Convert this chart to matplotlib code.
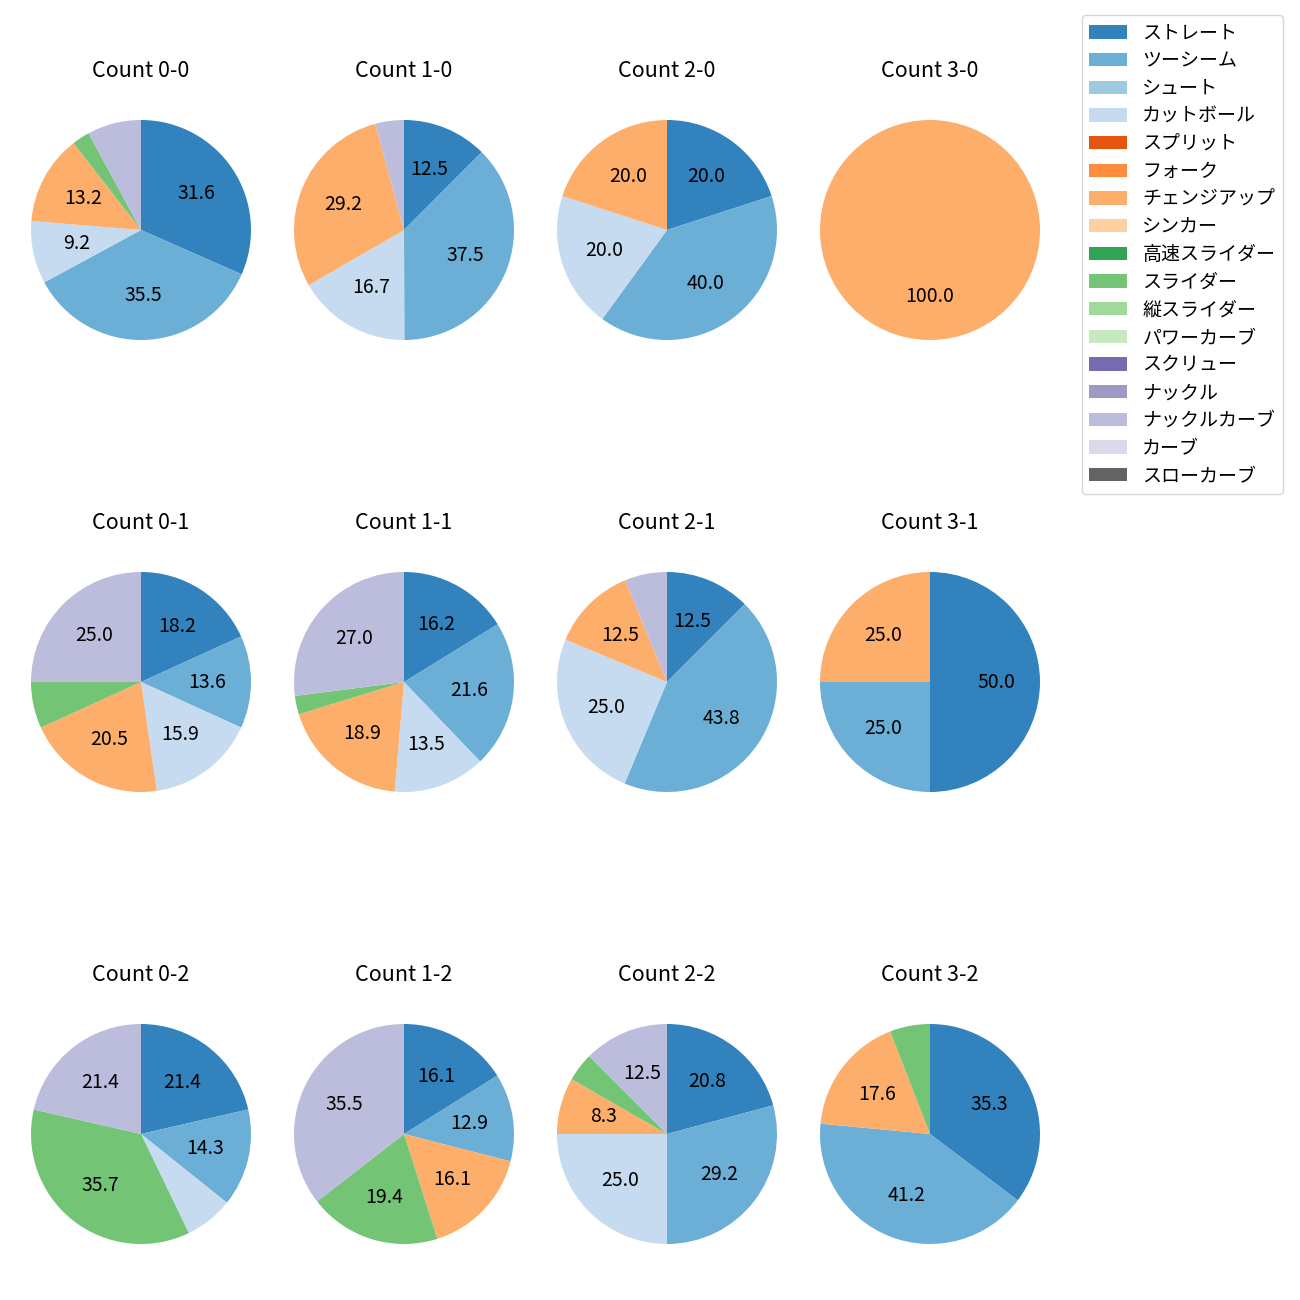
import matplotlib
matplotlib.use("Agg")
import matplotlib.pyplot as plt
from matplotlib.patches import Patch

plt.rcParams['font.family'] = ['Noto Sans CJK JP', 'DejaVu Sans']

pitch_types = ['ストレート', 'ツーシーム', 'シュート', 'カットボール', 'スプリット', 'フォーク',
               'チェンジアップ', 'シンカー', '高速スライダー', 'スライダー', '縦スライダー',
               'パワーカーブ', 'スクリュー', 'ナックル', 'ナックルカーブ', 'カーブ', 'スローカーブ']

count_labels = ['0-0', '1-0', '2-0', '3-0',
                '0-1', '1-1', '2-1', '3-1',
                '0-2', '1-2', '2-2', '3-2']

# percentages per pitch type (same order as pitch_types)
c00 = [31.6, 35.5, 0, 9.2, 0, 0, 13.2, 0, 0, 2.6, 0, 0, 0, 0, 7.9, 0, 0]
c10 = [12.5, 37.5, 0, 16.7, 0, 0, 29.2, 0, 0, 0, 0, 0, 0, 0, 4.2, 0, 0]
c20 = [20.0, 40.0, 0, 20.0, 0, 0, 20.0, 0, 0, 0, 0, 0, 0, 0, 0, 0, 0]
c30 = [0, 0, 0, 0, 0, 0, 100.0, 0, 0, 0, 0, 0, 0, 0, 0, 0, 0]
c01 = [18.2, 13.6, 0, 15.9, 0, 0, 20.5, 0, 0, 6.8, 0, 0, 0, 0, 25.0, 0, 0]
c11 = [16.2, 21.6, 0, 13.5, 0, 0, 18.9, 0, 0, 2.7, 0, 0, 0, 0, 27.0, 0, 0]
c21 = [12.5, 43.8, 0, 25.0, 0, 0, 12.5, 0, 0, 0, 0, 0, 0, 0, 6.2, 0, 0]
c31 = [50.0, 25.0, 0, 0, 0, 0, 25.0, 0, 0, 0, 0, 0, 0, 0, 0, 0, 0]
c02 = [21.4, 14.3, 0, 7.1, 0, 0, 0, 0, 0, 35.7, 0, 0, 0, 0, 21.4, 0, 0]
c12 = [16.1, 12.9, 0, 0, 0, 0, 16.1, 0, 0, 19.4, 0, 0, 0, 0, 35.5, 0, 0]
c22 = [20.8, 29.2, 0, 25.0, 0, 0, 8.3, 0, 0, 4.2, 0, 0, 0, 0, 12.5, 0, 0]
c32 = [35.3, 41.2, 0, 0, 0, 0, 17.6, 0, 0, 5.9, 0, 0, 0, 0, 0, 0, 0]

all_counts = [c00, c10, c20, c30, c01, c11, c21, c31, c02, c12, c22, c32]

cmap = plt.get_cmap('tab20c')
colors = [cmap(i) for i in range(len(pitch_types))]

W = H = 1300
fig = plt.figure(figsize=(13, 13), dpi=100)

R = 110.0
size = 2.5 * R
for idx, (lab, vals) in enumerate(zip(count_labels, all_counts)):
    r, c = divmod(idx, 4)
    cx = 141 + 263 * c
    cy = 230 + 452 * r
    ax = fig.add_axes([(cx - size / 2) / W, 1 - (cy + size / 2) / H, size / W, size / H])
    v = [x for x in vals if x > 0]
    col = [colors[i] for i, x in enumerate(vals) if x > 0]
    ax.pie(v, colors=col, startangle=90, counterclock=False,
           autopct=lambda p: f'{p:.1f}' if p >= 8 else '',
           textprops={'fontsize': 14})
    ax.set_title(f'Count {lab}', fontsize=15.5, pad=11.2)

handles = [Patch(facecolor=colors[i], label=pitch_types[i]) for i in range(len(pitch_types))]
fig.legend(handles=handles, loc='upper right', bbox_to_anchor=(1283 / W, 1 - 15 / H),
           borderaxespad=0, fontsize=13.7, labelspacing=0.35)

fig.savefig('out.png', dpi=100)
